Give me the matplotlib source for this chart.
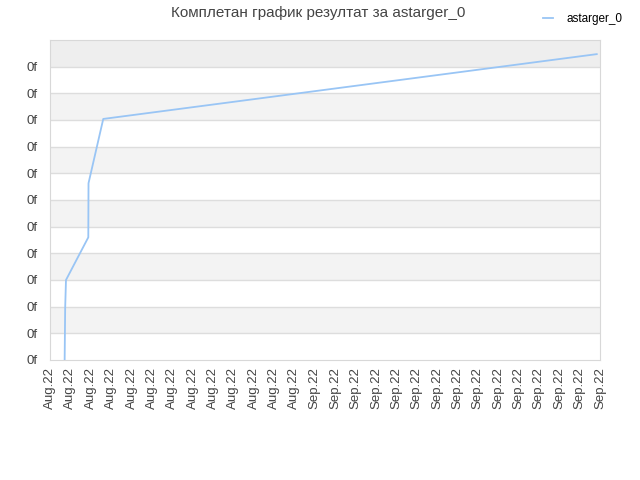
import pandas as pd
import matplotlib.pyplot as plt
import matplotlib.dates as mdates

plt.rcParams['font.family'] = ['Liberation Sans', 'DejaVu Sans']

# подаци са графика
times = pd.to_datetime([
    '2022-08-08 10:30', '2022-08-08 11:45', '2022-08-08 13:40',
    '2022-08-10 18:15', '2022-08-10 18:45', '2022-08-12 05:30',
    '2022-09-29 16:20',
])
scores = [0, 1.95, 3.0, 4.6, 6.63, 9.04, 11.47]

x_start = pd.Timestamp('2022-08-07')
x_end = pd.Timestamp('2022-09-30')
tick_dates = pd.date_range(x_start, x_end, freq='2D')
y_ticks = list(range(0, 12))
y_top = 12

title = 'Комплетан график резултат за astarger_0'
series_name = 'astarger_0'
line_color = '#99c5f5'

fig = plt.figure(figsize=(6.4, 4.8), dpi=100)
ax = fig.add_axes([50 / 640, 120 / 480, 550 / 640, 320 / 480])

# наизменичне траке
for v in y_ticks:
    if v % 2 == 1:
        color = '#eeeeee' if v == y_ticks[-1] else '#f3f3f3'
        ax.axhspan(v, v + 1, color=color, lw=0, zorder=0)
for v in y_ticks[1:]:
    ax.axhline(v, color='#dddddd', lw=1, zorder=1)

ax.plot(times, scores, color=line_color, lw=1.3, label=series_name, zorder=3)

ax.set_xlim(x_start, x_end)
ax.set_ylim(0, y_top)
ax.set_xticks(tick_dates)
ax.xaxis.set_major_formatter(mdates.DateFormatter('%b.%y'))
ax.set_yticks(y_ticks)
ax.set_yticklabels(['0f'] * len(y_ticks))
ax.tick_params(axis='x', rotation=90, length=0, labelsize=9.5, colors='#444444', pad=5)
ax.tick_params(axis='y', length=0, labelsize=9.5, colors='#444444', pad=9)
for s in ax.spines.values():
    s.set_color('#d8d8d8')

fig.text(0.497, 0.988, title, ha='center', va='top', fontsize=11, color='#444444')
fig.legend(loc='upper right', bbox_to_anchor=(0.99, 0.995), frameon=False,
           fontsize=8.5, handlelength=0.8, handletextpad=1.2)

fig.savefig('out.png', dpi=100)
